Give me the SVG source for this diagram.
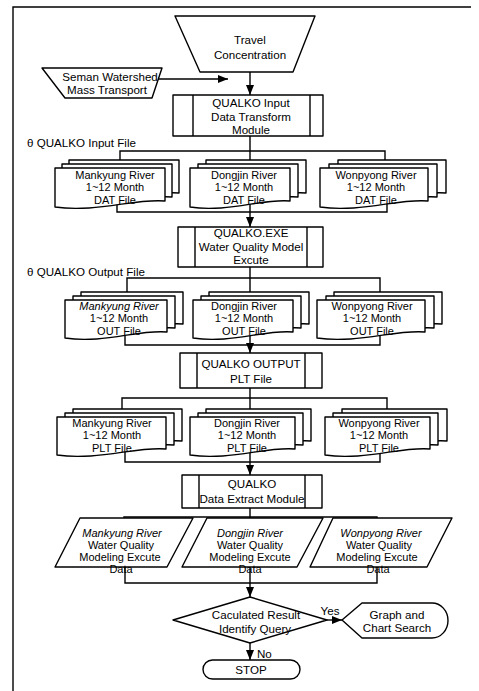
<svg xmlns="http://www.w3.org/2000/svg" width="479" height="691" viewBox="0 0 479 691">
<style>
.s{fill:#fff;stroke:#000;stroke-width:1.4;stroke-linejoin:round}
.c{fill:none;stroke:#000;stroke-width:1.4}
text{font-family:"Liberation Sans",Arial,sans-serif;font-size:11.6px;fill:#000;text-anchor:middle}
.d{font-size:11px}
.l{text-anchor:start}
.i{font-style:italic}
</style>
<defs>
<marker id="ah" markerUnits="userSpaceOnUse" markerWidth="10" markerHeight="8" refX="10" refY="4" orient="auto">
<path d="M0,0 L10,4 L0,8 z" fill="#000"/>
</marker>
</defs>
<rect width="479" height="691" fill="#fff"/>
<g id="frame" class="c">
<path d="M13,691 V7 H471"/>
</g>
<g id="connectors" class="c">
<path d="M250,72 V95" marker-end="url(#ah)"/>
<path d="M156,79 H228" marker-end="url(#ah)"/>
<path d="M250,136 V151 M120,162 V151 H385 V162 M250,151 V162"/>
<path d="M117,200 V212 H387 V198 M250,200 V227" marker-end="url(#ah)"/>
<path d="M250,267 V278 M127,294 V278 H380 V294 M250,278 V294"/>
<path d="M125,330 V345 H380 V330 M250,335 V353" marker-end="url(#ah)"/>
<path d="M250,388 V398 M122,411 V398 H387 V411 M250,398 V411"/>
<path d="M125,448 V462 H380 V448 M250,450 V475" marker-end="url(#ah)"/>
<path d="M250,508 V517 M124,522 V517 H377 V522 M250,517 V522"/>
<path d="M125,565 V583 H377 V565 M250,565 V597" marker-end="url(#ah)"/>
<path d="M327,620 H342" marker-end="url(#ah)"/>
<path d="M250,643 V660" marker-end="url(#ah)"/>
</g>
<g id="travel">
<path class="s" d="M175,16 H315 L293,72 H200 Z"/>
<text x="250" y="44">Travel</text>
<text x="250" y="59">Concentration</text>
</g>
<g id="seman">
<path class="s" d="M42,68 H162 L152,98 H65 Z"/>
<text x="110" y="81">Seman Watershed</text>
<text x="107" y="94">Mass Transport</text>
</g>
<g id="input-module">
<rect class="s" x="173" y="95" width="150" height="41"/>
<path class="c" d="M193,95 V136 M310,95 V136"/>
<text x="251" y="107">QUALKO Input</text>
<text x="251" y="121">Data Transform</text>
<text x="251" y="134">Module</text>
</g>
<text class="l" x="27" y="147">θ QUALKO Input File</text>
<g id="dat-mankyung" class="d">
<path class="s" d="M69,160 H179 V193 C150,190 110,205 69,199 Z"/>
<path class="s" d="M62,164 H172 V197 C143,194 103,209 62,203 Z"/>
<path class="s" d="M55,168 H165 V201 C136,198 96,213 55,207 Z"/>
<text class="d" x="115" y="179">Mankyung River</text>
<text class="d" x="115" y="191">1~12 Month</text>
<text class="d" x="115" y="204">DAT File</text>
</g>
<g id="dat-dongjin">
<path class="s" d="M206,160 H306 V193 C280,190 243,205 206,199 Z"/>
<path class="s" d="M198,164 H298 V197 C272,194 235,209 198,203 Z"/>
<path class="s" d="M190,168 H290 V201 C264,198 227,213 190,207 Z"/>
<text class="d" x="244" y="179">Dongjin River</text>
<text class="d" x="244" y="191">1~12 Month</text>
<text class="d" x="244" y="204">DAT File</text>
</g>
<g id="dat-wonpyong">
<path class="s" d="M338,160 H446 V193 C418,190 378,205 338,199 Z"/>
<path class="s" d="M329,164 H437 V197 C409,194 369,209 329,203 Z"/>
<path class="s" d="M320,168 H428 V201 C400,198 360,213 320,207 Z"/>
<text class="d" x="376" y="179">Wonpyong River</text>
<text class="d" x="376" y="191">1~12 Month</text>
<text class="d" x="376" y="204">DAT File</text>
</g>
<g id="exe-module">
<rect class="s" x="178" y="227" width="145" height="40"/>
<path class="c" d="M195,227 V267 M307,227 V267"/>
<text x="251" y="237">QUALKO.EXE</text>
<text x="251" y="251" font-size="11">Water Quality Model</text>
<text x="251" y="264">Excute</text>
</g>
<text class="l" x="27" y="276">θ QUALKO Output File</text>
<g id="out-mankyung">
<path class="s" d="M81,292 H183 V324 C156,321 119,336 81,330 Z"/>
<path class="s" d="M73,296 H175 V328 C148,325 111,340 73,334 Z"/>
<path class="s" d="M65,300 H167 V332 C140,329 103,344 65,338 Z"/>
<text class="d i" x="119" y="310">Mankyung River</text>
<text class="d" x="119" y="322">1~12 Month</text>
<text class="d" x="119" y="335">OUT File</text>
</g>
<g id="out-dongjin">
<path class="s" d="M209,292 H309 V324 C283,321 246,336 209,330 Z"/>
<path class="s" d="M201,296 H301 V328 C275,325 238,340 201,334 Z"/>
<path class="s" d="M193,300 H293 V332 C267,329 230,344 193,338 Z"/>
<text class="d" x="244" y="310">Dongjin River</text>
<text class="d" x="244" y="322">1~12 Month</text>
<text class="d" x="244" y="335">OUT File</text>
</g>
<g id="out-wonpyong">
<path class="s" d="M334,292 H442 V324 C414,321 374,336 334,330 Z"/>
<path class="s" d="M326,296 H434 V328 C406,325 366,340 326,334 Z"/>
<path class="s" d="M317,300 H425 V332 C397,329 357,344 317,338 Z"/>
<text class="d" x="372" y="310">Wonpyong River</text>
<text class="d" x="372" y="322">1~12 Month</text>
<text class="d" x="372" y="335">OUT File</text>
</g>
<g id="output-module">
<rect class="s" x="180" y="353" width="142" height="35"/>
<path class="c" d="M197,353 V388 M305,353 V388"/>
<text x="251" y="368">QUALKO OUTPUT</text>
<text x="251" y="383">PLT File</text>
</g>
<g id="plt-mankyung">
<path class="s" d="M73,409 H182 V441 C154,438 113,453 73,447 Z"/>
<path class="s" d="M65,413 H174 V445 C146,442 105,457 65,451 Z"/>
<path class="s" d="M57,417 H166 V449 C138,446 97,461 57,455 Z"/>
<text class="d" x="112" y="427">Mankyung River</text>
<text class="d" x="112" y="439">1~12 Month</text>
<text class="d" x="112" y="452">PLT File</text>
</g>
<g id="plt-dongjin">
<path class="s" d="M206,409 H311 V441 C284,438 245,453 206,447 Z"/>
<path class="s" d="M198,413 H303 V445 C276,442 237,457 198,451 Z"/>
<path class="s" d="M190,417 H295 V449 C268,446 229,461 190,455 Z"/>
<text class="d" x="247" y="427">Dongjin River</text>
<text class="d" x="247" y="439">1~12 Month</text>
<text class="d" x="247" y="452">PLT File</text>
</g>
<g id="plt-wonpyong">
<path class="s" d="M342,409 H447 V441 C420,438 381,453 342,447 Z"/>
<path class="s" d="M333,413 H438 V445 C411,442 372,457 333,451 Z"/>
<path class="s" d="M325,417 H430 V449 C403,446 364,461 325,455 Z"/>
<text class="d" x="379" y="427">Wonpyong River</text>
<text class="d" x="379" y="439">1~12 Month</text>
<text class="d" x="379" y="452">PLT File</text>
</g>
<g id="extract-module">
<rect class="s" x="182" y="475" width="140" height="33"/>
<path class="c" d="M199,475 V508 M305,475 V508"/>
<text x="252" y="488">QUALKO</text>
<text x="252" y="503" font-size="11">Data Extract Module</text>
</g>
<g id="data-mankyung">
<path class="s" d="M80,518 H193 L167,567 H55 Z"/>
<text class="d i" x="122" y="537">Mankyung River</text>
<text class="d" x="121" y="549">Water Quality</text>
<text class="d" x="120" y="561">Modeling Excute</text>
<text class="d" x="121" y="573">Data</text>
</g>
<g id="data-dongjin">
<path class="s" d="M207,518 H323 L297,567 H182 Z"/>
<text class="d i" x="250" y="537">Dongjin River</text>
<text class="d" x="250" y="549">Water Quality</text>
<text class="d" x="250" y="561">Modeling Excute</text>
<text class="d" x="250" y="573">Data</text>
</g>
<g id="data-wonpyong">
<path class="s" d="M333,518 H452 L427,567 H310 Z"/>
<text class="d i" x="381" y="537">Wonpyong River</text>
<text class="d" x="379" y="549">Water Quality</text>
<text class="d" x="377" y="561">Modeling Excute</text>
<text class="d" x="378" y="573">Data</text>
</g>
<g id="query">
<path class="s" d="M250,597 L327,620 L250,643 L173,620 Z"/>
<text x="256" y="619">Caculated Result</text>
<text x="255" y="633">Identify Query</text>
</g>
<text x="330" y="615">Yes</text>
<text class="l" x="257" y="658">No</text>
<g id="graph">
<path class="s" d="M342,620 L362,603 H432 A16,17.5 0 0 1 432,638 H362 Z"/>
<text x="397" y="619">Graph and</text>
<text x="397" y="632">Chart Search</text>
</g>
<g id="stop">
<rect class="s" x="203" y="660" width="97" height="19" rx="9.5"/>
<text x="251" y="674">STOP</text>
</g>
</svg>
